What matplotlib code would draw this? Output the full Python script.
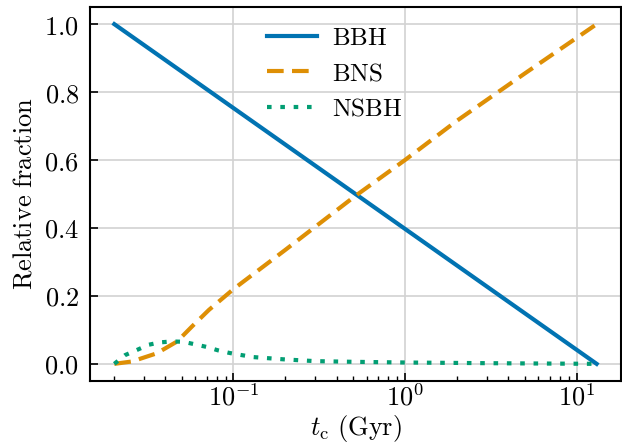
import numpy as np
import matplotlib
matplotlib.use("Agg")
import matplotlib.pyplot as plt
from matplotlib.ticker import FuncFormatter, FixedLocator

plt.rcParams['mathtext.fontset'] = 'cm'

# delay times (Gyr) and relative fractions
t_bbh = [0.0202, 13.1]
f_bbh = [1.0, 0.0]

t_bns = [0.0202, 0.0256, 0.0357, 0.047, 0.0573, 0.072, 0.1, 0.2, 0.5, 1.0, 2.0, 5.0, 13.1]
f_bns = [0.0, 0.007, 0.031, 0.066, 0.11, 0.159, 0.22, 0.335, 0.49, 0.6, 0.715, 0.855, 1.0]

t_nsbh = [0.0202, 0.0234, 0.0274, 0.0319, 0.037, 0.0436, 0.051, 0.059, 0.0695,
          0.081, 0.095, 0.111, 0.13, 0.2, 0.3, 0.5, 1.0, 3.0, 13.1]
f_nsbh = [0.0, 0.026, 0.041, 0.056, 0.063, 0.066, 0.065, 0.058, 0.05,
          0.04, 0.032, 0.026, 0.02, 0.013, 0.008, 0.006, 0.004, 0.002, 0.0]

fig = plt.figure(figsize=(6.22, 4.47), dpi=100)
ax = fig.add_axes([0.145, 0.148, 0.853, 0.836])

ax.plot(t_bbh, f_bbh, color="#0173b2", lw=3, ls='-', label=r"$\mathrm{BBH}$")
ax.plot(t_bns, f_bns, color="#de8f05", lw=3, ls=(0, (4, 2)), label=r"$\mathrm{BNS}$")
ax.plot(t_nsbh, f_nsbh, color="#029e73", lw=3, ls=(0, (1.1, 2.1)), label=r"$\mathrm{NSBH}$")

ax.set_xscale('log')
ax.grid(True, which='major', color='#d2d2d2', lw=1.2)
ax.set_axisbelow(True)

ax.yaxis.set_major_locator(FixedLocator([0.0, 0.2, 0.4, 0.6, 0.8, 1.0]))
ax.yaxis.set_major_formatter(FuncFormatter(lambda v, p: r"$%.1f$" % v))
ax.xaxis.set_major_formatter(FuncFormatter(lambda v, p: r"$10^{%d}$" % int(round(np.log10(v)))))

ax.tick_params(which='both', direction='in', labelsize=19)
ax.tick_params(which='major', length=6, width=1.2)
ax.tick_params(axis='x', which='major', pad=3)
ax.tick_params(axis='y', which='major', pad=8)
ax.tick_params(which='minor', length=3.5, width=1.0)
for s in ax.spines.values():
    s.set_linewidth(1.5)

ax.set_xlabel(r"$t_{\rm c}\ \mathrm{(Gyr)}$", fontsize=19, labelpad=1)
ax.set_ylabel(r"$\mathrm{Relative\ fraction}$", fontsize=19, labelpad=5)

ax.legend(loc='upper left', bbox_to_anchor=(0.29, 1.01), frameon=False, fontsize=18,
          handlelength=2.0, handletextpad=0.6, labelspacing=0.45)

fig.savefig("out.png", dpi=100)
